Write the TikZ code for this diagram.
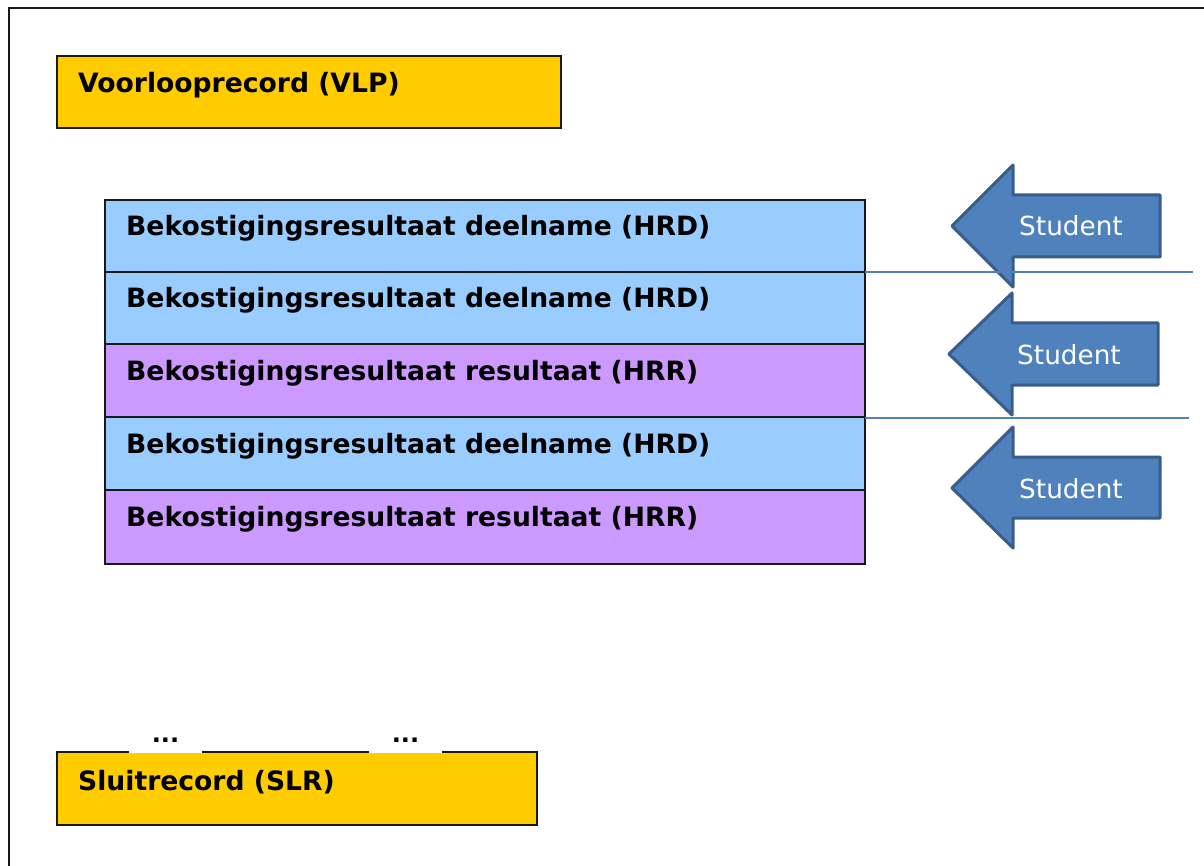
\documentclass[tikz,border=0pt]{standalone}
\usepackage{fontspec}
\setmainfont{DejaVu Sans}
\usetikzlibrary{calc}
\definecolor{recyellow}{HTML}{FFCC00}
\definecolor{recblue}{HTML}{99CCFF}
\definecolor{recpurple}{HTML}{CC99FF}
\definecolor{arrfill}{HTML}{4F81BD}
\definecolor{arrline}{HTML}{385D8A}
\tikzset{
  recbox/.style={draw=black!90, line width=2pt, anchor=north west, inner sep=0pt, outer sep=0pt},
  rowbox/.style={recbox, minimum width=760pt},
  rectext/.style={anchor=base west, inner sep=0pt, font=\fontsize{26.6}{30}\selectfont\bfseries},
  dotsbox/.style={fill=white, anchor=south, minimum width=73pt, inner xsep=0pt, inner ysep=11pt,
     text height=4pt, text depth=0pt, font=\fontsize{24}{30}\selectfont\bfseries},
  studarrow/.style={fill=arrfill, draw=arrline, line width=3pt, line join=round},
  studtext/.style={text=white, inner sep=0pt, anchor=base, font=\fontsize{26.3}{30}\selectfont},
  sepline/.style={draw=arrfill, line width=1.5pt}
}
\begin{document}
\begin{tikzpicture}[x=1pt,y=-1pt]
\useasboundingbox (0,0) rectangle (1204,866);
% outer frame
\draw[line width=2pt, black!90] (1204,8.5) -- (8.5,8.5) -- (8.5,866);

% VLP
\node[recbox, fill=recyellow, minimum width=504pt, minimum height=72pt] (vlp) at (57,56) {};
\node[rectext] (vlpt) at ($(vlp.north west)+(21,37)$) {Voorlooprecord (VLP)};

% rows
\node[rowbox, fill=recblue, minimum height=72pt] (r1) at (105,200) {};
\node[rowbox, fill=recblue, minimum height=72pt] (r2) at (105,272) {};
\node[rowbox, fill=recpurple, minimum height=73pt] (r3) at (105,344) {};
\node[rowbox, fill=recblue, minimum height=73pt] (r4) at (105,417) {};
\node[rowbox, fill=recpurple, minimum height=74pt] (r5) at (105,490) {};
\node[rectext] (t1) at ($(r1.north west)+(21,36)$) {Bekostigingsresultaat deelname (HRD)};
\node[rectext] (t2) at ($(r2.north west)+(21,36)$) {Bekostigingsresultaat deelname (HRD)};
\node[rectext] (t3) at ($(r3.north west)+(21,36)$) {Bekostigingsresultaat resultaat (HRR)};
\node[rectext] (t4) at ($(r4.north west)+(21,36)$) {Bekostigingsresultaat deelname (HRD)};
\node[rectext] (t5) at ($(r5.north west)+(21,36)$) {Bekostigingsresultaat resultaat (HRR)};

% SLR
\node[recbox, fill=recyellow, minimum width=480pt, minimum height=73pt] (slr) at (57,752) {};
\node[rectext] (slrt) at ($(slr.north west)+(21,38)$) {Sluitrecord (SLR)};
\node[dotsbox] (d1) at (165.5,753.5) {...};
\node[dotsbox] (d2) at (405.5,753.5) {...};

% arrows
\draw[studarrow] (952,226) -- (1013,165) -- (1013,195) -- (1160,195) -- (1160,257) -- (1013,257) -- (1013,287) -- cycle;
\node[studtext] (s1) at (1071,236) {Student};
\draw[studarrow] (949,354) -- (1012,293) -- (1012,323) -- (1158,323) -- (1158,385) -- (1012,385) -- (1012,415) -- cycle;
\node[studtext] (s2) at (1069,364) {Student};
\draw[studarrow] (952,488) -- (1013,427) -- (1013,457) -- (1160,457) -- (1160,518) -- (1013,518) -- (1013,548) -- cycle;
\node[studtext] (s3) at (1071,498) {Student};

% separator lines
\coordinate (e1) at (1193,0);
\coordinate (e2) at (1189,0);
\coordinate (c3) at ($(r3.south east)+(0,1)$);
\draw[sepline] (r1.south east) -- (r1.south east -| e1);
\draw[sepline] (c3) -- (c3 -| e2);
\end{tikzpicture}
\end{document}
